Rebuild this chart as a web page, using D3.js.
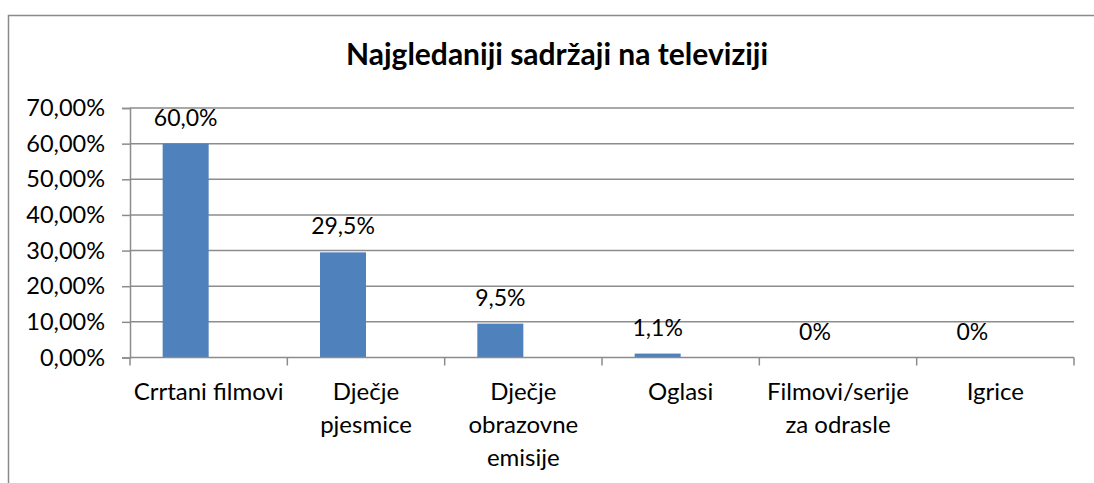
<!DOCTYPE html>
<html>
<head>
<meta charset="utf-8">
<script src="https://cdn.jsdelivr.net/npm/d3@7"></script>
<style>
  body { margin: 0; background: #fff; }
  text { font-family: Lato, "Open Sans", sans-serif; fill: #000; }
</style>
</head>
<body>
<script>
var categories = [["Crrtani filmovi"], ["Dječje", "pjesmice"], ["Dječje", "obrazovne", "emisije"],
                  ["Oglasi"], ["Filmovi/serije", "za odrasle"], ["Igrice"]];
var values = [0.600, 0.295, 0.095, 0.011, 0, 0];
var valueLabels = ["60,0%", "29,5%", "9,5%", "1,1%", "0%", "0%"];
var yTicks = [0, 0.1, 0.2, 0.3, 0.4, 0.5, 0.6, 0.7];

var width = 1094, height = 483;
var plot = {left: 130, right: 1074, top: 108, bottom: 357.5};

var svg = d3.select("body").append("svg")
    .attr("width", width)
    .attr("height", height);

// chart frame
svg.append("rect")
    .attr("x", 8.5).attr("y", 15.5)
    .attr("width", 1100).attr("height", 500)
    .attr("fill", "none")
    .attr("stroke", "#8a8a8a")
    .attr("stroke-width", 1.5);

svg.append("text")
    .attr("x", 557).attr("y", 65)
    .attr("text-anchor", "middle")
    .attr("font-size", "30px")
    .attr("font-weight", "bold")
    .text("Najgledaniji sadržaji na televiziji");

var names = categories.map(function(d) { return d.join(" "); });

var xScale = d3.scaleBand().domain(names).range([plot.left, plot.right]);
var inner = d3.scaleBand().domain(["s1", "s2"]).range([0, xScale.bandwidth()]).paddingOuter(0.71);
var yScale = d3.scaleLinear().domain([0, 0.7]).range([plot.bottom, plot.top]);

// gridlines
svg.append("g")
    .selectAll("line")
    .data(yTicks.slice(1))
    .enter().append("line")
    .attr("x1", plot.left).attr("x2", plot.right)
    .attr("y1", function(d) { return yScale(d); })
    .attr("y2", function(d) { return yScale(d); })
    .attr("stroke", "#8c8c8c")
    .attr("stroke-width", 1.5);

// y axis
var yAxis = svg.append("g")
    .attr("transform", "translate(" + plot.left + ",0)")
    .call(d3.axisLeft(yScale).tickValues(yTicks).tickSize(8).tickPadding(17)
        .tickFormat(function(d) { return (d * 100).toFixed(2).replace(".", ",") + "%"; }));
yAxis.select(".domain").attr("stroke", "#8c8c8c").attr("stroke-width", 1.5);
yAxis.selectAll(".tick line").attr("stroke", "#8c8c8c").attr("stroke-width", 1.5);
yAxis.selectAll(".tick text").attr("font-size", "23.5px").attr("font-family", "Lato, sans-serif");

// bars
svg.append("g")
    .selectAll("rect")
    .data(values)
    .enter().append("rect")
    .attr("x", function(d, i) { return xScale(names[i]) + inner("s1"); })
    .attr("width", inner.bandwidth())
    .attr("y", function(d) { return yScale(d); })
    .attr("height", function(d) { return yScale(0) - yScale(d); })
    .attr("fill", "#4f81bd");

// value labels
svg.append("g")
    .selectAll("text")
    .data(values)
    .enter().append("text")
    .attr("x", function(d, i) { return xScale(names[i]) + inner("s1") + inner.bandwidth() / 2; })
    .attr("y", function(d) { return yScale(d) - 18; })
    .attr("text-anchor", "middle")
    .attr("font-size", "23px")
    .text(function(d, i) { return valueLabels[i]; });

// x axis
svg.append("line")
    .attr("x1", plot.left).attr("x2", plot.right)
    .attr("y1", plot.bottom).attr("y2", plot.bottom)
    .attr("stroke", "#8c8c8c").attr("stroke-width", 1.5);

svg.append("g")
    .selectAll("line")
    .data(names.concat(["end"]))
    .enter().append("line")
    .attr("x1", function(d, i) { return i < names.length ? xScale(d) : plot.right; })
    .attr("x2", function(d, i) { return i < names.length ? xScale(d) : plot.right; })
    .attr("y1", plot.bottom).attr("y2", plot.bottom + 8)
    .attr("stroke", "#8c8c8c").attr("stroke-width", 1.5);

var catLabels = svg.append("g")
    .selectAll("text")
    .data(categories)
    .enter().append("text")
    .attr("x", function(d, i) { return xScale(names[i]) + xScale.bandwidth() / 2; })
    .attr("y", 400)
    .attr("text-anchor", "middle")
    .attr("font-size", "24px");

catLabels.selectAll("tspan")
    .data(function(d) { return d; })
    .enter().append("tspan")
    .attr("x", function() { return d3.select(this.parentNode).attr("x"); })
    .attr("dy", function(d, i) { return i == 0 ? 0 : 33; })
    .text(function(d) { return d; });
</script>
</body>
</html>
